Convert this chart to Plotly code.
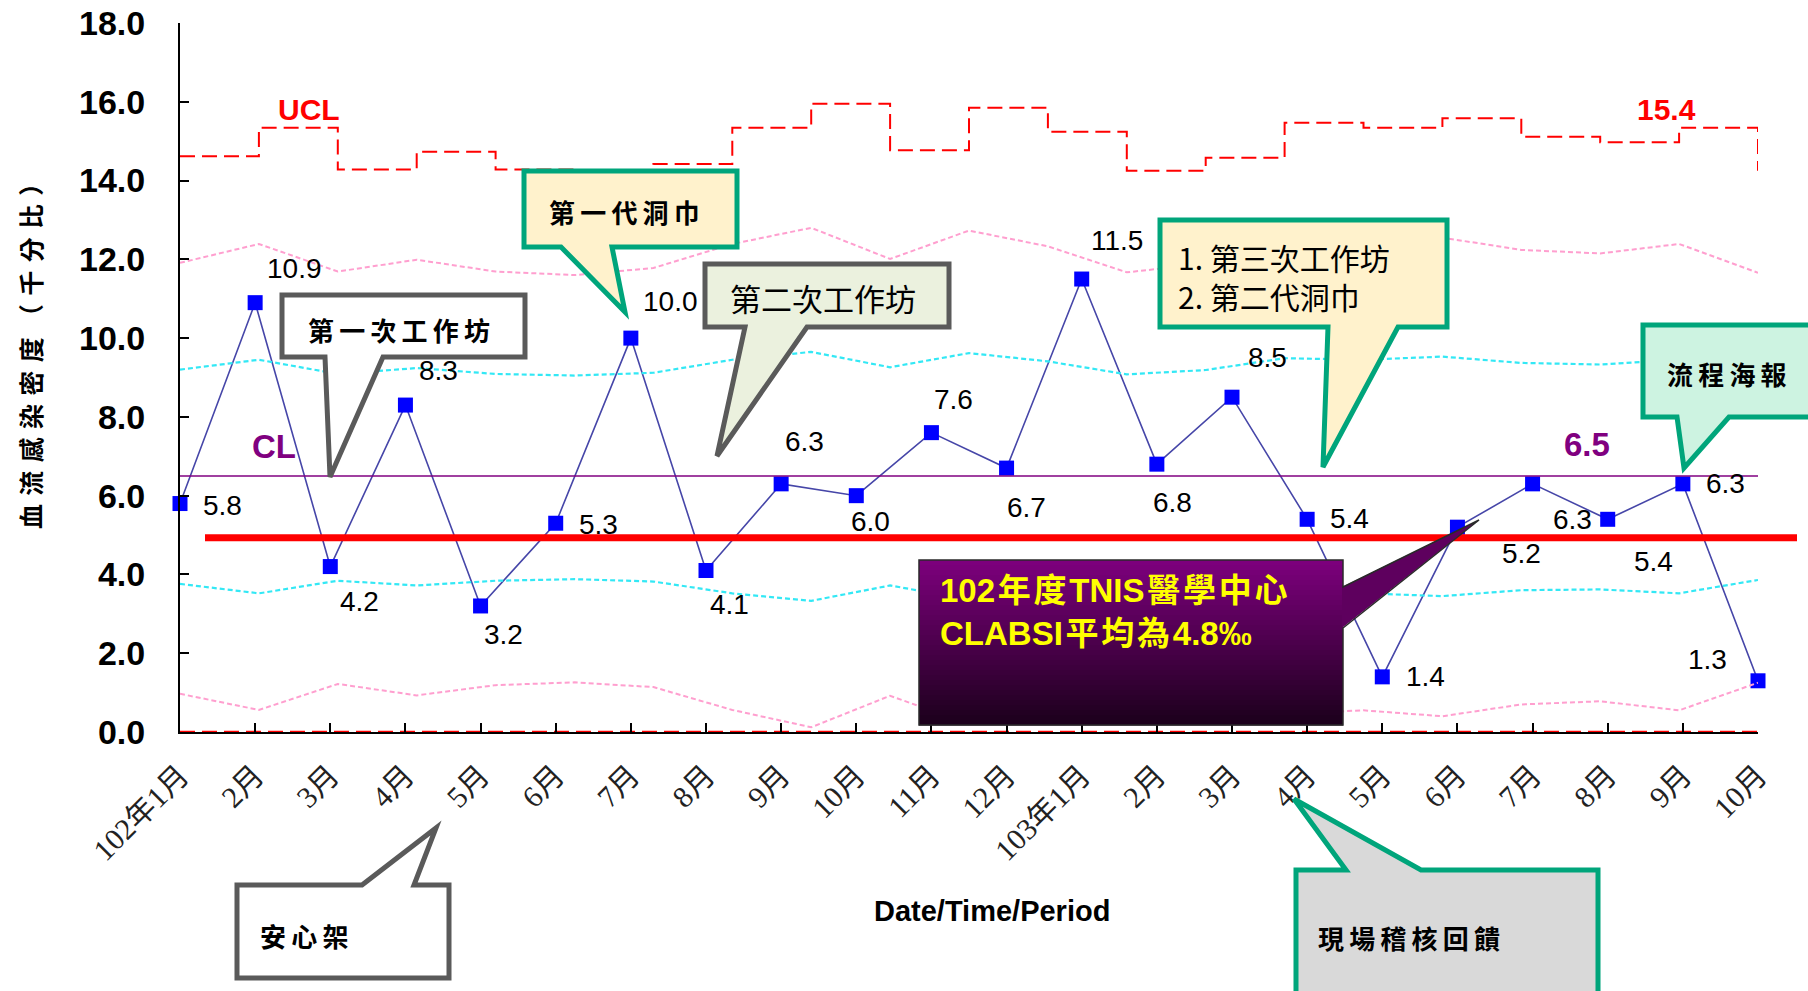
import plotly.graph_objects as go

# ---------------- data ----------------
months = ['102年1月', '2月', '3月', '4月', '5月', '6月', '7月', '8月', '9月', '10月', '11月', '12月',
          '103年1月', '2月', '3月', '4月', '5月', '6月', '7月', '8月', '9月', '10月']
rates = [5.8, 10.9, 4.2, 8.3, 3.2, 5.3, 10.0, 4.1, 6.3, 6.0, 7.6, 6.7,
         11.5, 6.8, 8.5, 5.4, 1.4, 5.2, 6.3, 5.4, 6.3, 1.3]

# control-limit series (21 points, plotted on their own category axis as in the original)
limit_idx = list(range(21))
ucl = [14.62, 15.34, 14.28, 14.73, 14.28, 14.15, 14.42, 15.34, 15.95, 14.77, 15.85,
       15.24, 14.25, 14.58, 15.47, 15.34, 15.58, 15.11, 14.97, 15.34, 14.25]
upper_2s = [11.91, 12.39, 11.69, 11.99, 11.69, 11.60, 11.78, 12.39, 12.80, 12.01, 12.73,
            12.33, 11.67, 11.89, 12.48, 12.39, 12.55, 12.24, 12.15, 12.39, 11.66]
upper_1s = [9.20, 9.45, 9.09, 9.24, 9.09, 9.05, 9.12, 9.45, 9.65, 9.26, 9.62,
            9.41, 9.08, 9.19, 9.49, 9.45, 9.53, 9.37, 9.33, 9.45, 9.08]
lower_1s = [3.76, 3.52, 3.84, 3.72, 3.84, 3.88, 3.82, 3.52, 3.33, 3.72, 3.36,
            3.56, 3.88, 3.78, 3.49, 3.52, 3.45, 3.60, 3.62, 3.52, 3.86]
lower_2s = [0.97, 0.56, 1.22, 0.93, 1.19, 1.26, 1.14, 0.56, 0.12, 0.92, 0.20,
            0.60, 1.25, 1.03, 0.46, 0.55, 0.40, 0.70, 0.78, 0.55, 1.25]
lcl = [0.0] * 21
cl_value = 6.5
ucl_last_label = '15.4'
tnis_line1 = ['102', '年', '度', 'TNIS', '醫', '學', '中', '心']
tnis_line2 = ['CLABSI', '平', '均', '為', '4.8‰']

# ---------------- layout geometry (pixels) ----------------
W_FIG, H_FIG = 1808, 991
ML, MR, MT, MB = 180, 50, 23, 259
PW = W_FIG - ML - MR
PH = H_FIG - MT - MB


def PX(x):
    return (x - ML) / PW


def PY(y):
    return (MT + PH - y) / PH


# label offsets (dx, dy) in pixels relative to each marker
label_offsets = [(42, 2), (39, -34), (29, 35), (33, -35), (23, 29), (43, 1), (40, -37), (23, 34),
                 (23, -42), (14, 26), (22, -33), (20, 39), (35, -39), (16, 38), (35, -40), (42, -1),
                 (43, 0), (64, 26), (40, 36), (46, 42), (43, 0), (-51, -21)]

SANS = 'Liberation Sans, Arial, Noto Sans CJK TC'
CJK = 'Noto Sans CJK TC, Noto Sans CJK SC'
SERIF = 'Liberation Serif, Noto Sans CJK TC'

fig = go.Figure()

dash_long = '15px,7px'
dash_short = '5px,3px'
fig.add_trace(go.Scatter(x=limit_idx, y=upper_2s, xaxis='x2', mode='lines',
                         line=dict(color='#FF9FCF', width=2, dash=dash_short), hoverinfo='skip'))
fig.add_trace(go.Scatter(x=limit_idx, y=lower_2s, xaxis='x2', mode='lines',
                         line=dict(color='#FF9FCF', width=2, dash=dash_short), hoverinfo='skip'))
fig.add_trace(go.Scatter(x=limit_idx, y=upper_1s, xaxis='x2', mode='lines',
                         line=dict(color='#33E8F5', width=2.2, dash=dash_short), hoverinfo='skip'))
fig.add_trace(go.Scatter(x=limit_idx, y=lower_1s, xaxis='x2', mode='lines',
                         line=dict(color='#33E8F5', width=2.2, dash=dash_short), hoverinfo='skip'))
fig.add_trace(go.Scatter(x=limit_idx, y=ucl, xaxis='x2', mode='lines',
                         line=dict(color='#FF0000', width=2, dash=dash_long, shape='hv'), hoverinfo='skip'))
fig.add_trace(go.Scatter(x=limit_idx, y=lcl, xaxis='x2', mode='lines',
                         line=dict(color='#FF0000', width=2.5, dash=dash_long), hoverinfo='skip'))
fig.add_trace(go.Scatter(x=[limit_idx[0], limit_idx[-1]], y=[cl_value, cl_value], xaxis='x2', mode='lines',
                         line=dict(color='#800080', width=1.6), hoverinfo='skip'))
fig.add_trace(go.Scatter(x=list(range(len(rates))), y=rates, mode='lines+markers', cliponaxis=False,
                         line=dict(color='#4646A8', width=1.6),
                         marker=dict(symbol='square', size=15, color='#0000FF', line=dict(width=0))))

shapes = []
# thick red reference line (102 TNIS average)
shapes.append(dict(type='line', xref='paper', yref='y', x0=PX(205), x1=PX(1797), y0=4.93, y1=4.93,
                   line=dict(color='#FF0000', width=7), layer='above'))


def poly(points):
    return 'M ' + ' L '.join(f'{PX(x):.5f},{PY(y):.5f}' for x, y in points) + ' Z'


GREEN = '#00A57B'
GREY = '#5A5A5A'
callouts = [
    ([(524, 171), (737, 171), (737, 247), (612, 247), (625, 312), (561, 247), (524, 247)], '#FFF2CC', GREEN),
    ([(282, 295), (525, 295), (525, 357), (383, 357), (330, 477), (325, 357), (282, 357)], '#FFFFFF', GREY),
    ([(705, 264), (949, 264), (949, 327), (807, 327), (717, 456), (745, 327), (705, 327)], '#EBF1DE', GREY),
    ([(1160, 220), (1447, 220), (1447, 327), (1398, 327), (1323, 467), (1328, 327), (1160, 327)], '#FFF2CC', GREEN),
    ([(1643, 325), (1815, 325), (1815, 417), (1729, 417), (1684, 468), (1677, 417), (1643, 417)], '#CDF3E1', GREEN),
    ([(237, 885), (362, 885), (436, 828), (414, 885), (449, 885), (449, 978), (237, 978)], '#FFFFFF', GREY),
    ([(1296, 870), (1346, 870), (1294, 799), (1421, 870), (1598, 870), (1598, 1005), (1296, 1005)], '#D9D9D9', GREEN),
]
for pts, fill, lc in callouts:
    shapes.append(dict(type='path', xref='paper', yref='paper', path=poly(pts), fillcolor=fill,
                       line=dict(color=lc, width=5), layer='above'))

# purple gradient callout
bx0, by0, bx1, by1 = 919, 560, 1343, 725
n = 33
top_c, bot_c = (124, 0, 124), (28, 0, 28)
for i in range(n):
    t = i / (n - 1)
    c = tuple(round(top_c[j] + (bot_c[j] - top_c[j]) * t) for j in range(3))
    ya = by0 + (by1 - by0) * i / n
    yb = by0 + (by1 - by0) * (i + 1) / n + 0.6
    shapes.append(dict(type='rect', xref='paper', yref='paper', x0=PX(bx0), x1=PX(bx1), y0=PY(ya), y1=PY(yb),
                       fillcolor=f'rgb{c}', line=dict(width=0), layer='above'))
shapes.append(dict(type='path', xref='paper', yref='paper',
                   path=poly([(1342, 587), (1479, 520), (1342, 628)]),
                   fillcolor='#5E005E', line=dict(width=0), layer='above'))
shapes.append(dict(type='path', xref='paper', yref='paper',
                   path=poly([(bx0, by0), (bx1, by0), (bx1, 587), (1479, 520), (bx1, 628), (bx1, by1), (bx0, by1)]),
                   fillcolor='rgba(0,0,0,0)', line=dict(color='#2A2A2A', width=1.5), layer='above'))

ann = []
# data labels
for i, (v, (dx, dy)) in enumerate(zip(rates, label_offsets)):
    ann.append(dict(x=i, y=v, xref='x', yref='y', text=f'{v:.1f}', showarrow=False,
                    xshift=dx, yshift=-dy, font=dict(family=SANS, size=28, color='#000000')))


def ptext(x, y, text, size, color='#000000', weight='normal', family=CJK, xanchor='center', align='center',
          angle=0):
    ann.append(dict(x=PX(x), y=PY(y), xref='paper', yref='paper', text=text, showarrow=False,
                    xanchor=xanchor, yanchor='middle', align=align, textangle=angle,
                    font=dict(family=family, size=size, color=color, weight=weight)))


sp = '\u2009'
hair = '\u200a'
ptext(309, 109, 'UCL', 30, '#FF0000', 'bold', SANS)
ptext(1666, 109, ucl_last_label, 30, '#FF0000', 'bold', SANS)
ptext(274, 447, 'CL', 33, '#800080', 'bold', SANS)
ptext(1587, 444, f'{cl_value:.1f}', 33, '#800080', 'bold', SANS)

ptext(624, 211, sp.join('第一代洞巾'), 26, weight='bold')
ptext(399, 329, sp.join('第一次工作坊'), 26, weight='bold')
ptext(823, 298, '第二次工作坊', 31)
ptext(1176, 276, '1. 第三次工作坊<br>2. 第二代洞巾', 30, xanchor='left', align='left')
ptext(1727, 373, sp.join('流程海報'), 26, weight='bold')
ptext(304, 935, sp.join('安心架'), 26, weight='bold')
ptext(1409, 937, sp.join('現場稽核回饋'), 26, weight='bold')
ptext(938, 612, hair.join(tnis_line1) + '<br>' + hair.join(tnis_line2), 33, '#FFFF00', 'bold', SANS,
      xanchor='left', align='left')

ptext(992, 911, 'Date/Time/Period', 29, '#000000', 'bold', SANS)
ptext(30, 350, '\u2004'.join('血流感染密度（千分比）'), 25, '#000000', 'bold', CJK, angle=-90)

fig.update_layout(
    width=W_FIG, height=H_FIG,
    margin=dict(l=ML, r=MR, t=MT, b=MB, autoexpand=False),
    paper_bgcolor='white', plot_bgcolor='white',
    showlegend=False,
    shapes=shapes,
    annotations=ann,
    xaxis=dict(range=[0, 21], tickmode='array', tickvals=list(range(len(months))), ticktext=months,
               tickangle=-45, ticks='inside', ticklen=9, tickwidth=1.5, tickcolor='#000000',
               showline=True, linecolor='#000000', linewidth=2, showgrid=False, zeroline=False,
               ticklabelstandoff=12, automargin=False,
               tickfont=dict(family=SERIF, size=30, color='#222222')),
    xaxis2=dict(range=[0, 20], overlaying='x', anchor='y', visible=False, showgrid=False, zeroline=False,
                automargin=False),
    yaxis=dict(range=[0, 18], dtick=2, tickformat='.1f', ticks='inside', ticklen=9, tickwidth=1.5,
               tickcolor='#000000', showline=True, linecolor='#000000', linewidth=2, showgrid=False,
               zeroline=False, ticklabelstandoff=26, automargin=False,
               tickfont=dict(family=SANS, size=34, color='#000000', weight='bold')),
)

fig.write_html('out.html')
